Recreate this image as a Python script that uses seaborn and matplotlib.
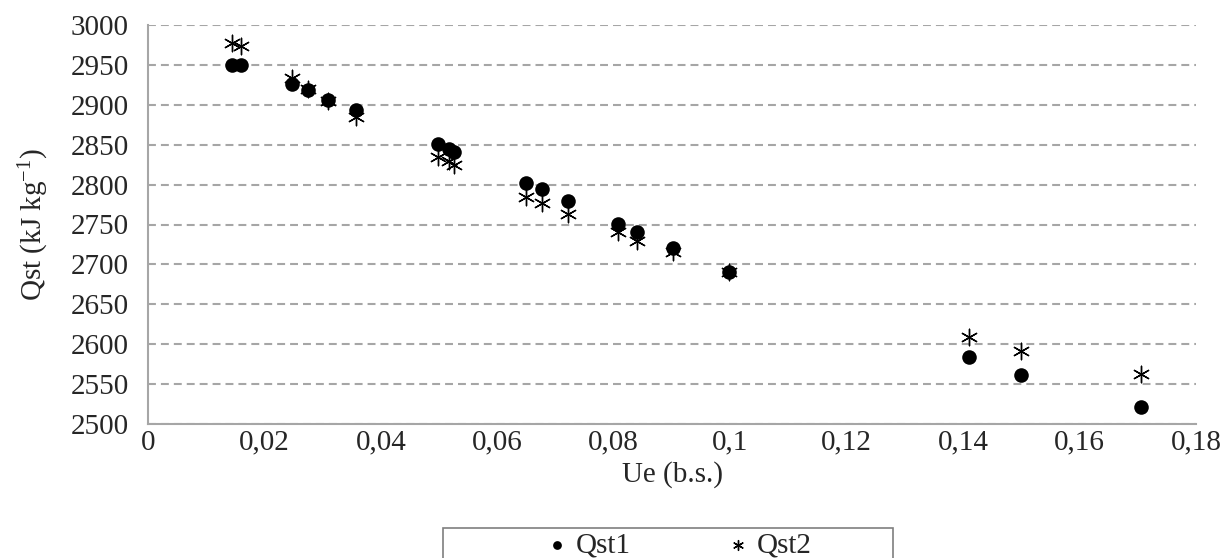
import numpy as np
import pandas as pd
import matplotlib
matplotlib.use("Agg")
import matplotlib.pyplot as plt
from matplotlib.ticker import FuncFormatter, MultipleLocator
from matplotlib.patches import Rectangle
import seaborn as sns

# data
ue = [0.0145, 0.0160, 0.0247, 0.0274, 0.0309, 0.0357, 0.0498, 0.0517, 0.0526,
      0.0650, 0.0676, 0.0722, 0.0808, 0.0840, 0.0902, 0.0998, 0.1410, 0.1500, 0.1705]
qst1 = [2950, 2950, 2926, 2919, 2906, 2894, 2851, 2844, 2841,
        2802, 2794, 2779, 2751, 2740, 2721, 2691, 2584, 2561, 2521]
qst2 = [2977, 2974, 2933, 2920, 2905, 2885, 2835, 2829, 2824,
        2785, 2777, 2763, 2740, 2729, 2715, 2690, 2609, 2592, 2563]
series_names = ["Qst1", "Qst2"]

df = pd.DataFrame({"Ue": ue, "Qst1": qst1, "Qst2": qst2})

sns.set_style("white")
plt.rcParams["font.family"] = ["Liberation Serif", "DejaVu Serif"]
plt.rcParams["mathtext.fontset"] = "custom"
plt.rcParams["mathtext.rm"] = "Liberation Serif"
plt.rcParams["mathtext.it"] = "Liberation Serif:italic"

fig = plt.figure(figsize=(12.26, 5.58), dpi=100)
ax = fig.add_axes([148 / 1226, 1 - 424 / 558, (1196 - 148) / 1226, (424 - 25) / 558])

grey = "#a6a6a6"
fs = 21

# Qst1 as filled circles, Qst2 as six-armed asterisks
sns.scatterplot(data=df, x="Ue", y="Qst1", ax=ax, marker="o", color="black",
                s=110, edgecolor="black", linewidth=0, label=series_names[0], zorder=3)
sns.scatterplot(data=df, x="Ue", y="Qst2", ax=ax, marker=(6, 2, 0), color="black",
                s=140, linewidth=1.0, label=series_names[1], zorder=3)

ax.set_xlim(0, 0.18)
ax.set_ylim(2500, 3000)
ax.xaxis.set_major_locator(MultipleLocator(0.02))
ax.yaxis.set_major_locator(MultipleLocator(50))
ax.xaxis.set_major_formatter(FuncFormatter(lambda v, p: f"{v:.2f}".rstrip("0").rstrip(".").replace(".", ",")))

ax.grid(True, axis="y", color=grey, linestyle=(0, (3.8, 2.4)), linewidth=1.5)
ax.set_axisbelow(True)
for side in ["top", "right"]:
    ax.spines[side].set_visible(False)
for side in ["left", "bottom"]:
    ax.spines[side].set_color(grey)
    ax.spines[side].set_linewidth(1.5)

ax.tick_params(axis="y", length=4, width=1.2, color=grey, labelsize=fs, pad=10)
ax.tick_params(axis="x", length=0, labelsize=fs, pad=4)

ax.set_xlabel("Ue (b.s.)", fontsize=fs, labelpad=4)
ax.set_ylabel(r"Qst (kJ kg$^{\mathregular{-1}}$)", fontsize=fs, labelpad=14)

# legend below the plot, in a plain grey box
handles, labels = ax.get_legend_handles_labels()
ax.get_legend().remove()
fig.legend(handles, labels, loc="center", bbox_to_anchor=(680 / 1226, 1 - 545 / 558),
           ncol=2, frameon=False, fontsize=fs, markerscale=0.6,
           handlelength=0.6, handletextpad=0.35, columnspacing=3.35, borderpad=0)
fig.patches.append(Rectangle((443 / 1226, -0.02), (893 - 443) / 1226, (558 - 528) / 558 + 0.02,
                             transform=fig.transFigure, fill=False,
                             edgecolor="#7f7f7f", linewidth=1.2))

fig.savefig("out.png", dpi=100)
